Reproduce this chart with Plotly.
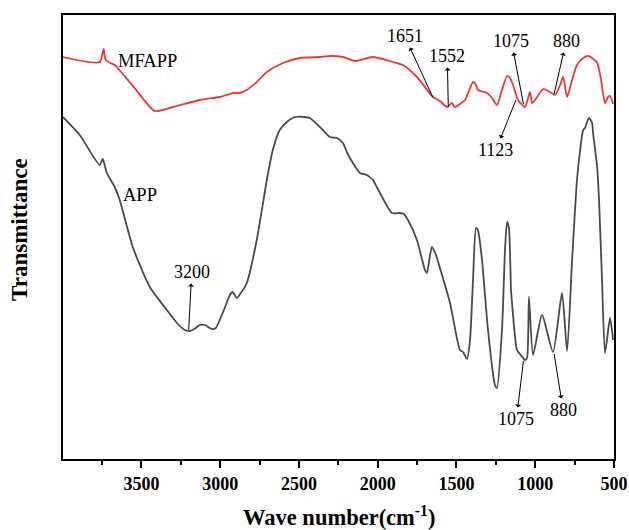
import plotly.graph_objects as go

# MFAPP (red) spectrum: wavenumber (cm-1) and transmittance (arbitrary units)
mfapp_wn = [4000, 3765, 3740, 3727, 3670, 3657, 3543, 3416, 3301, 3130, 3003, 2939, 2920,
            2876, 2831, 2768, 2704, 2602, 2494, 2367, 2304, 2221, 2145, 2031, 1904, 1840,
            1751, 1649, 1605, 1560, 1529, 1510, 1478, 1446, 1395, 1376, 1364, 1306, 1275,
            1243, 1211, 1179, 1160, 1141, 1109, 1065, 1033, 1020, 988, 950, 906, 874, 842,
            823, 798, 766, 735, 696, 665, 639, 607, 582, 557, 538, 525, 506]
mfapp_t = [402, 397, 410, 399, 394, 392, 371, 348, 352, 359, 362, 365, 366,
           366, 369, 377, 387, 396, 401, 402, 403, 402, 398, 402, 397, 394,
           382, 362, 358, 352, 356, 352, 355, 359, 377, 374, 369, 366, 361,
           354, 369, 383, 381, 374, 359, 352, 367, 356, 362, 370, 367, 364, 374,
           382, 362, 379, 394, 401, 403, 401, 396, 379, 356, 362, 363, 355]

# APP (dark grey) spectrum
app_wn = [4000, 3892, 3765, 3746, 3720, 3670, 3638, 3555, 3447, 3339, 3269, 3225, 3193,
          3155, 3130, 3098, 3053, 3028, 3003, 2964, 2939, 2920, 2895, 2869, 2831, 2768,
          2704, 2666, 2622, 2577, 2526, 2463, 2431, 2367, 2304, 2259, 2221, 2196, 2158,
          2113, 2069, 2031, 1986, 1910, 1859, 1834, 1808, 1751, 1700, 1688, 1656, 1630,
          1605, 1541, 1478, 1459, 1433, 1414, 1395, 1376, 1364, 1338, 1300, 1256, 1243,
          1211, 1192, 1179, 1167, 1154, 1148, 1116, 1097, 1065, 1052, 1040, 1014, 957,
          887, 830, 798, 766, 735, 715, 696, 684, 671, 658, 639, 633, 607, 595, 576, 557,
          525, 506]
app_t = [342, 324, 294, 300, 286, 272, 259, 212, 172, 149, 135, 129, 128,
         131, 134, 134, 130, 131, 139, 154, 164, 167, 161, 166, 176, 219,
         279, 309, 329, 337, 342, 342, 341, 332, 322, 321, 316, 307, 296,
         286, 284, 279, 266, 246, 246, 245, 239, 219, 189, 186, 212, 204,
         191, 156, 109, 107, 100, 119, 179, 231, 229, 199, 129, 74, 71,
         129, 209, 237, 231, 169, 157, 109, 105, 99, 101, 162, 104, 144,
         107, 166, 108, 199, 279, 309, 329, 331, 337, 341, 336, 326, 292, 259, 179, 106,
         141, 119]

# Peak labels: label, wavenumber, transmittance at pointer, text offset (px)
peak_labels = ["3200", "1651", "1552", "1075", "880", "1123", "1075", "880"]
peak_wn = [3200, 1651, 1552, 1075, 880, 1123, 1075, 880]
peak_t = [129, 362, 352, 355, 365, 359, 98, 105]
peak_ax = [3, -28, -1, -12, 12, -20, -7, 9]
peak_ay = [-58, -61, -51, -63, -53, 50, 58, 56]

tick_vals = [3500, 3000, 2500, 2000, 1500, 1000, 500]
tick_text = [str(v) for v in tick_vals]

FONT = "Liberation Serif, Times New Roman, serif"

fig = go.Figure()
fig.add_trace(go.Scatter(x=mfapp_wn, y=mfapp_t, mode="lines",
                         line=dict(color="#EE3838", width=1.8, shape="spline", smoothing=0.6),
                         showlegend=False, hoverinfo="skip"))
fig.add_trace(go.Scatter(x=app_wn, y=app_t, mode="lines",
                         line=dict(color="#4A4A4A", width=1.8, shape="spline", smoothing=0.6),
                         showlegend=False, hoverinfo="skip"))

annotations = []
for lab, x, y, ax, ay in zip(peak_labels, peak_wn, peak_t, peak_ax, peak_ay):
    annotations.append(dict(x=x, y=y, xref="x", yref="y", text=lab, showarrow=True,
                            ax=ax, ay=ay, arrowside="start", arrowhead=2, arrowsize=3,
                            arrowwidth=1, arrowcolor="black", startstandoff=0, standoff=0,
                            font=dict(family=FONT, size=18, color="black")))

annotations.append(dict(x=3660, y=398, xref="x", yref="y", text="MFAPP", showarrow=False,
                        xanchor="left", yanchor="middle",
                        font=dict(family=FONT, size=18.5, color="black")))
annotations.append(dict(x=3630, y=264, xref="x", yref="y", text="APP", showarrow=False,
                        xanchor="left", yanchor="middle",
                        font=dict(family=FONT, size=18.5, color="black")))
annotations.append(dict(x=-0.078, y=0.516, xref="paper", yref="paper", text="<b>Transmittance</b>",
                        showarrow=False, textangle=-90, xanchor="center", yanchor="middle",
                        font=dict(family=FONT, size=23, color="black")))
annotations.append(dict(x=0.5, y=-0.128, xref="paper", yref="paper",
                        text="<b>Wave number(cm<sup>-1</sup>)</b>",
                        showarrow=False, xanchor="center", yanchor="middle",
                        font=dict(family=FONT, size=22.5, color="black")))

fig.update_layout(
    width=629, height=530,
    margin=dict(l=63, r=15, t=15, b=71, autoexpand=False),
    paper_bgcolor="white", plot_bgcolor="white",
    annotations=annotations,
    xaxis=dict(range=[3998, 500], tickmode="array", tickvals=tick_vals, ticktext=tick_text,
               automargin=False,
               ticks="outside", ticklen=7, tickwidth=1.5, tickcolor="black",
               showline=True, linecolor="black", linewidth=1.8, mirror=True,
               showgrid=False, zeroline=False,
               tickfont=dict(family=FONT, size=18, color="black", weight="bold"),
               minor=dict(ticks="outside", ticklen=4, tickwidth=1.5, tickcolor="black",
                          tickvals=[3750, 3250, 2750, 2250, 1750, 1250, 750], showgrid=False)),
    yaxis=dict(range=[0, 444], showticklabels=False, ticks="", automargin=False,
               showline=True, linecolor="black", linewidth=1.8, mirror=True,
               showgrid=False, zeroline=False),
)

fig.write_html("out.html", config={"displayModeBar": False},
               post_script="document.body.style.margin='0';document.body.style.overflow='hidden';")
